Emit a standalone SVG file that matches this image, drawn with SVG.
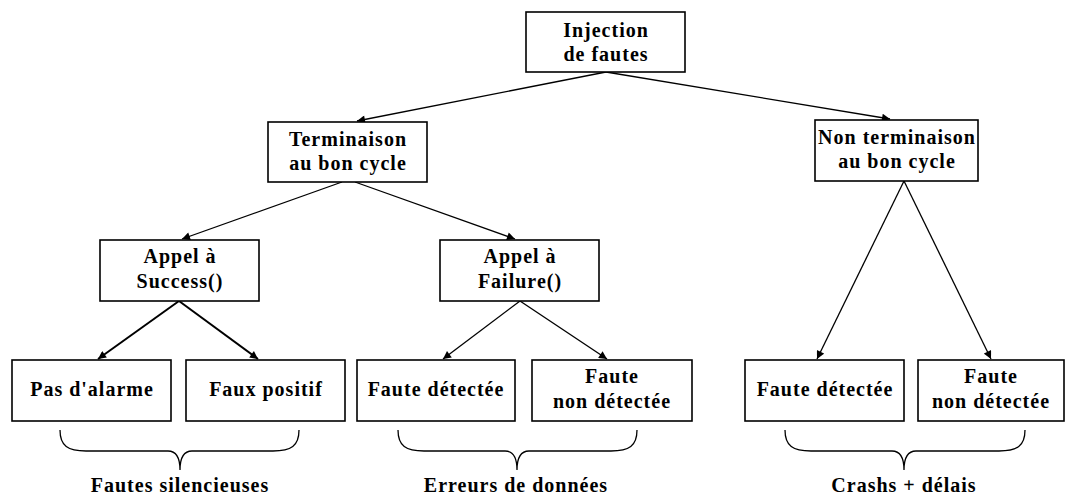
<svg xmlns="http://www.w3.org/2000/svg" width="1066" height="499" viewBox="0 0 1066 499">
<style>
.box{fill:#fff;stroke:#000;stroke-width:1.6}
.t{font-family:"Liberation Serif","Times New Roman",serif;font-weight:bold;font-size:20px;letter-spacing:1px;text-anchor:middle;fill:#000}
.c{stroke:#000;stroke-width:1.3;fill:none;marker-end:url(#ah)}
.c2{stroke:#000;stroke-width:2;fill:none;marker-end:url(#ah)}
.br{stroke:#000;stroke-width:1.3;fill:none}
</style>
<defs>
<marker id="ah" viewBox="0 0 10 10" refX="10" refY="5" markerWidth="9" markerHeight="8" markerUnits="userSpaceOnUse" orient="auto">
<path d="M0,0 L10,5 L0,10 z" fill="#000"/>
</marker>
</defs>
<rect width="1066" height="499" fill="#fff"/>
<g id="connectors">
<line class="c" x1="606" y1="72" x2="357" y2="121"/>
<line class="c" x1="606" y1="72" x2="890" y2="119"/>
<line class="c" x1="342" y1="182" x2="182" y2="239"/>
<line class="c" x1="355" y1="182" x2="515" y2="239"/>
<line class="c" x1="904" y1="181" x2="817" y2="359"/>
<line class="c" x1="904" y1="181" x2="991" y2="359"/>
<line class="c2" x1="179" y1="301" x2="98" y2="359"/>
<line class="c2" x1="179" y1="301" x2="258" y2="359"/>
<line class="c" x1="520" y1="301" x2="443" y2="359"/>
<line class="c" x1="520" y1="301" x2="607" y2="359"/>
</g>
<g id="n-injection">
<rect class="box" x="526" y="12" width="159" height="60"/>
<text class="t" x="606" y="37">Injection</text>
<text class="t" x="606" y="61">de fautes</text>
</g>
<g id="n-terminaison">
<rect class="box" x="268" y="122" width="159" height="60"/>
<text class="t" x="348" y="146">Terminaison</text>
<text class="t" x="348" y="170">au bon cycle</text>
</g>
<g id="n-nonterminaison">
<rect class="box" x="815" y="120" width="163" height="61"/>
<text class="t" x="897" y="144">Non terminaison</text>
<text class="t" x="897" y="168">au bon cycle</text>
</g>
<g id="n-success">
<rect class="box" x="100" y="240" width="159" height="61"/>
<text class="t" x="180" y="263">Appel à</text>
<text class="t" x="180" y="288">Success()</text>
</g>
<g id="n-failure">
<rect class="box" x="440" y="240" width="159" height="61"/>
<text class="t" x="520" y="263">Appel à</text>
<text class="t" x="520" y="288">Failure()</text>
</g>
<g id="n-pasalarme">
<rect class="box" x="12" y="360" width="159" height="61"/>
<text class="t" x="92" y="396">Pas d'alarme</text>
</g>
<g id="n-fauxpositif">
<rect class="box" x="186" y="360" width="159" height="61"/>
<text class="t" x="266" y="396">Faux positif</text>
</g>
<g id="n-fautedet1">
<rect class="box" x="357" y="360" width="158" height="61"/>
<text class="t" x="436" y="396">Faute détectée</text>
</g>
<g id="n-fautenondet1">
<rect class="box" x="532" y="360" width="160" height="61"/>
<text class="t" x="612" y="383">Faute</text>
<text class="t" x="612" y="408">non détectée</text>
</g>
<g id="n-fautedet2">
<rect class="box" x="745" y="360" width="159" height="61"/>
<text class="t" x="825" y="396">Faute détectée</text>
</g>
<g id="n-fautenondet2">
<rect class="box" x="918" y="360" width="146" height="61"/>
<text class="t" x="991" y="383">Faute</text>
<text class="t" x="991" y="408">non détectée</text>
</g>
<g id="braces">
<path class="br" d="M60,430 C60,446 68,451 86,451 L168,451 C176,451 180,458 180,470 C180,458 184,451 192,451 L273,451 C291,451 299,446 299,430"/>
<path class="br" d="M398,430 C398,446 406,451 424,451 L505,451 C513,451 517,458 517,470 C517,458 521,451 529,451 L611,451 C629,451 637,446 637,430"/>
<path class="br" d="M785,430 C785,446 793,451 811,451 L892,451 C900,451 904,458 904,470 C904,458 908,451 916,451 L999,451 C1017,451 1025,446 1025,430"/>
</g>
<g id="labels">
<text class="t" x="180" y="492">Fautes silencieuses</text>
<text class="t" x="516" y="492">Erreurs de données</text>
<text class="t" x="904" y="492">Crashs + délais</text>
</g>
</svg>
